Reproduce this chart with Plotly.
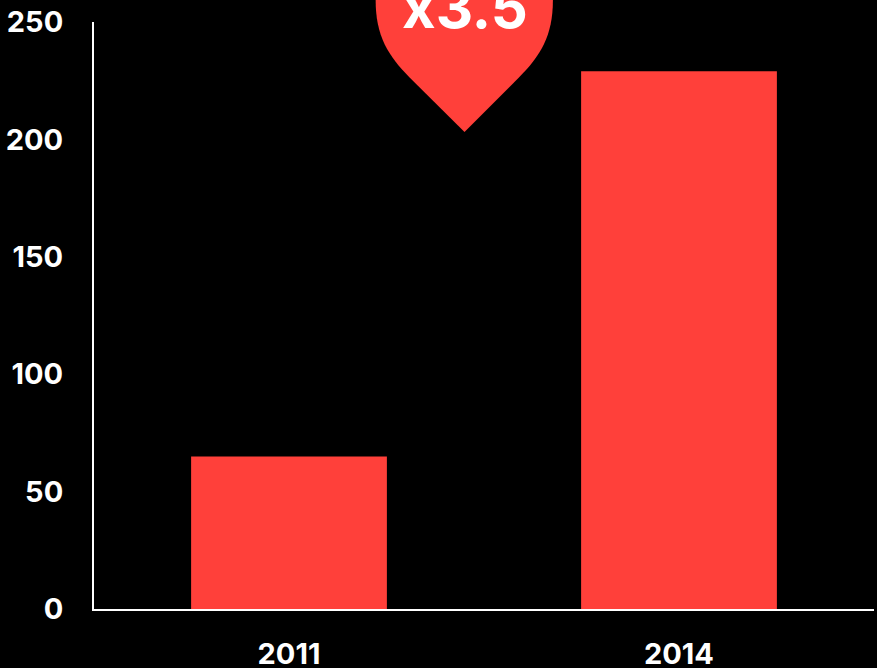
import plotly.graph_objects as go

years = ["2011", "2014"]
values = [65, 229]
y_ticks = [0, 50, 100, 150, 200, 250]
badge_label = "x3.5"

RED = "#FF403A"
WIDTH, HEIGHT = 877, 668
LEFT, RIGHT, TOP, BOTTOM = 93.5, 2.5, 22, 58.5
FONT = "Inter"


def px(x, y):
    """Convert page pixels to paper coordinates of the plot area."""
    fx = (x - LEFT) / (WIDTH - LEFT - RIGHT)
    fy = 1 - (y - TOP) / (HEIGHT - TOP - BOTTOM)
    return f"{fx:.5f},{fy:.5f}"


# Teardrop badge: straight flanks meeting at a point, rounded shoulders running off the top
badge_path = (
    f"M {px(464.5, 132)} L {px(410, 78)} "
    f"C {px(388, 56)} {px(375.5, 36)} {px(375.5, 0)} "
    f"L {px(375.5, -30)} L {px(553, -30)} L {px(553, 0)} "
    f"C {px(553, 36)} {px(540.5, 56)} {px(518.5, 78)} Z"
)

fig = go.Figure(
    go.Bar(x=years, y=values, width=0.502, marker=dict(color=RED, line=dict(width=0)), hoverinfo="skip")
)

fig.add_shape(type="path", path=badge_path, xref="paper", yref="paper",
              fillcolor=RED, line=dict(width=0), layer="above")

fig.add_annotation(
    text=f"<b>{badge_label}</b>",
    xref="paper", yref="paper",
    x=(464.5 - LEFT) / (WIDTH - LEFT - RIGHT),
    y=1 - (30 - TOP) / (HEIGHT - TOP - BOTTOM),
    xanchor="center", yanchor="bottom", yshift=-14,
    showarrow=False,
    font=dict(family=FONT, size=58, color="white"),
)

fig.update_layout(
    width=WIDTH, height=HEIGHT,
    margin=dict(l=LEFT, r=RIGHT, t=TOP, b=BOTTOM, pad=0),
    paper_bgcolor="black", plot_bgcolor="black",
    showlegend=False,
    font=dict(family=FONT, size=29, color="white", weight=700),
    xaxis=dict(
        type="category", range=[-0.5, 1.5], automargin=False,
        showgrid=False, zeroline=False,
        showline=True, linecolor="white", linewidth=2,
        ticks="", ticklabelstandoff=18,
    ),
    yaxis=dict(
        range=[0, 250], tickvals=y_ticks, automargin=False,
        showgrid=False, zeroline=False,
        showline=True, linecolor="white", linewidth=2,
        ticks="", ticklabelstandoff=23,
    ),
)

fig.write_html("out.html", config=dict(displayModeBar=False))
